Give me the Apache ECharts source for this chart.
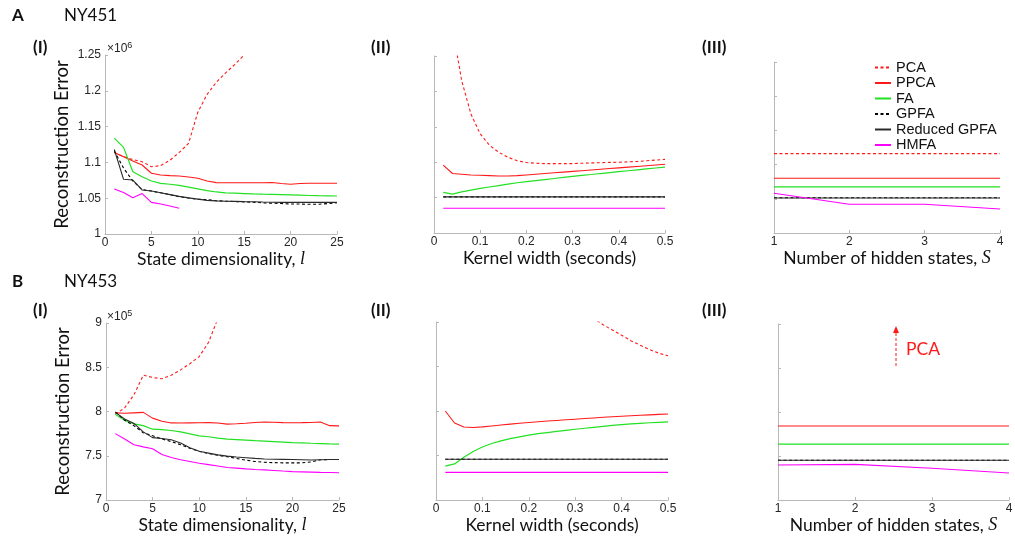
<!DOCTYPE html>
<html><head><meta charset="utf-8">
<script src="https://cdn.jsdelivr.net/npm/echarts@6/dist/echarts.min.js"></script>
<style>html,body{margin:0;padding:0;background:#fff}#c{width:1015px;height:542px}</style>
</head><body><div id="c"></div>
<script>
// ---------- data ----------
const dims = [1,2,3,4,5,6,7,8,9,10,11,12,13,14,15,16,17,18,19,20,21,22,23,24,25];
const kernel = [0.02,0.04,0.06,0.08,0.10,0.12,0.14,0.16,0.18,0.20,0.22,0.24,0.26,0.28,0.30,0.32,0.34,0.36,0.38,0.40,0.42,0.44,0.46,0.48,0.50];
const states = [1,2,3,4];
const names = ['PCA','PPCA','FA','GPFA','Reduced GPFA','HMFA'];

// Panel A (NY451), values in units of 1e6
const a1PCA   = [1.114,1.108,1.104,1.101,1.094,1.0955,1.103,1.114,1.1265,1.17,1.195,1.212,1.225,1.237,1.25];
const a1PPCA  = [1.114,1.108,1.102,1.0964,1.0848,1.0824,1.0815,1.081,1.0795,1.0778,1.074,1.0717,1.0715,1.0715,1.0715,1.0715,1.0715,1.072,1.0705,1.0695,1.0705,1.0708,1.0708,1.0708,1.0708];
const a1FA    = [1.134,1.121,1.087,1.080,1.074,1.0708,1.0695,1.068,1.0655,1.063,1.0605,1.0587,1.0575,1.057,1.0565,1.056,1.0556,1.0554,1.055,1.0546,1.0542,1.0538,1.0535,1.0533,1.0531];
const a1GPFA  = [1.116,1.092,1.074,1.062,1.060,1.0575,1.055,1.052,1.0503,1.0485,1.048,1.0465,1.0458,1.0453,1.0448,1.0443,1.0435,1.043,1.0425,1.042,1.0418,1.0415,1.0415,1.0425,1.0437];
const a1RGPFA = [1.118,1.0764,1.0754,1.0615,1.060,1.0575,1.055,1.0525,1.0505,1.0487,1.047,1.0462,1.0458,1.0455,1.0452,1.045,1.0446,1.0443,1.0442,1.0442,1.0442,1.0442,1.0442,1.0442,1.0442];
const a1HMFA  = [1.063,1.058,1.0507,1.0565,1.0442,1.042,1.039,1.0359];

const a2PCA   = [1.60,1.29,1.215,1.168,1.140,1.124,1.114,1.107,1.102,1.0995,1.0985,1.098,1.098,1.098,1.098,1.0985,1.099,1.0993,1.0997,1.100,1.1005,1.101,1.102,1.103,1.104];
const a2PPCA  = [1.096,1.084,1.083,1.082,1.0815,1.081,1.0805,1.0805,1.081,1.082,1.083,1.084,1.085,1.086,1.087,1.088,1.089,1.090,1.091,1.092,1.093,1.094,1.095,1.096,1.097];
const a2FA    = [1.0575,1.055,1.058,1.0605,1.063,1.065,1.067,1.069,1.071,1.0725,1.074,1.0755,1.077,1.0785,1.080,1.0813,1.0826,1.084,1.0853,1.0866,1.0879,1.0892,1.0905,1.0918,1.093];
const a2GPFA  = [1.051,1.051,1.051,1.051,1.051,1.051,1.051,1.051,1.051,1.051,1.051,1.051,1.051,1.051,1.051,1.051,1.051,1.051,1.051,1.051,1.051,1.051,1.051,1.051,1.051];
const a2RGPFA = [1.051,1.051,1.051,1.051,1.051,1.051,1.051,1.051,1.051,1.051,1.051,1.051,1.051,1.051,1.051,1.051,1.051,1.051,1.051,1.051,1.051,1.051,1.051,1.051,1.051];
const a2HMFA  = [1.035,1.035,1.035,1.035,1.035,1.035,1.035,1.035,1.035,1.035,1.035,1.035,1.035,1.035,1.035,1.035,1.035,1.035,1.035,1.035,1.035,1.035,1.035,1.035,1.035];

const a3PCA   = [1.116,1.116,1.116,1.116];
const a3PPCA  = [1.080,1.080,1.080,1.080];
const a3FA    = [1.0675,1.0675,1.0675,1.0675];
const a3GPFA  = [1.0515,1.0515,1.0515,1.0515];
const a3RGPFA = [1.0512,1.0512,1.0512,1.0512];
const a3HMFA  = [1.058,1.042,1.042,1.035];

// Panel B (NY453), values in units of 1e5
const b1PCA   = [7.97,8.04,8.19,8.41,8.385,8.37,8.41,8.47,8.54,8.62,8.78,9.05];
const b1PPCA  = [7.985,7.98,7.985,7.99,7.925,7.89,7.871,7.87,7.872,7.873,7.874,7.87,7.857,7.862,7.868,7.875,7.882,7.878,7.874,7.873,7.874,7.876,7.882,7.84,7.838];
const b1FA    = [7.97,7.90,7.86,7.84,7.80,7.795,7.785,7.77,7.748,7.725,7.715,7.70,7.688,7.683,7.677,7.67,7.665,7.66,7.655,7.648,7.645,7.641,7.638,7.634,7.631];
const b1GPFA  = [7.995,7.90,7.84,7.76,7.725,7.69,7.66,7.625,7.585,7.55,7.525,7.505,7.49,7.47,7.45,7.435,7.426,7.422,7.42,7.42,7.42,7.43,7.455,7.457,7.458];
const b1RGPFA = [7.99,7.915,7.865,7.77,7.705,7.695,7.68,7.645,7.59,7.55,7.53,7.51,7.496,7.486,7.478,7.47,7.464,7.461,7.459,7.457,7.455,7.452,7.455,7.457,7.458];
const b1HMFA  = [7.75,7.69,7.625,7.60,7.58,7.515,7.48,7.455,7.435,7.415,7.40,7.385,7.368,7.36,7.352,7.345,7.34,7.334,7.327,7.321,7.318,7.315,7.312,7.31,7.308];

const b2PCA   = [null,null,null,null,null,null,null,null,null,null,null,null,null,null,9.20,9.11,9.04,8.97,8.91,8.85,8.79,8.74,8.69,8.65,8.62];
const b2PPCA  = [8.00,7.865,7.82,7.814,7.822,7.832,7.842,7.852,7.862,7.871,7.879,7.887,7.894,7.901,7.908,7.915,7.922,7.929,7.935,7.941,7.947,7.952,7.957,7.962,7.967];
const b2FA    = [7.38,7.405,7.48,7.545,7.595,7.635,7.665,7.69,7.71,7.728,7.745,7.758,7.771,7.783,7.795,7.806,7.817,7.828,7.838,7.847,7.855,7.862,7.868,7.873,7.877];
const b2GPFA  = [7.458,7.458,7.458,7.458,7.458,7.458,7.458,7.458,7.458,7.458,7.458,7.458,7.458,7.458,7.458,7.458,7.458,7.458,7.458,7.458,7.458,7.458,7.458,7.458,7.458];
const b2RGPFA = [7.458,7.458,7.458,7.458,7.458,7.458,7.458,7.458,7.458,7.458,7.458,7.458,7.458,7.458,7.458,7.458,7.458,7.458,7.458,7.458,7.458,7.458,7.458,7.458,7.458];
const b2HMFA  = [7.31,7.31,7.31,7.31,7.31,7.31,7.31,7.31,7.31,7.31,7.31,7.31,7.31,7.31,7.31,7.31,7.31,7.31,7.31,7.31,7.31,7.31,7.31,7.31,7.31];

const b3PPCA  = [7.841,7.841,7.841,7.841];
const b3FA    = [7.636,7.636,7.636,7.636];
const b3GPFA  = [7.451,7.451,7.451,7.451];
const b3RGPFA = [7.451,7.451,7.451,7.451];
const b3HMFA  = [7.398,7.405,7.36,7.307];

const yTicksA = [1, 1.25, 0.05];   // min, max, interval
const yTicksB = [7, 9, 0.5];

// ---------- styles ----------
const RED = '#ff1a1a', GREEN = '#22e022', MAG = '#ff00ff';
const sty = {
  'PCA': {color: RED, type: [3, 2.5], width: 1.1},
  'PPCA': {color: RED, type: 'solid', width: 1.1},
  'FA': {color: GREEN, type: 'solid', width: 1.2},
  'GPFA': {color: '#000', type: [3, 2.5], width: 1.1},
  'Reduced GPFA': {color: '#2a2a2a', type: 'solid', width: 1.1},
  'HMFA': {color: MAG, type: 'solid', width: 1.1}
};
function mk(name, gi, xs, ys) {
  const s = sty[name];
  return {
    name, type: 'line', xAxisIndex: gi, yAxisIndex: gi, symbol: 'none', silent: true,
    color: s.color, clip: true, animation: false,
    lineStyle: {color: s.color, type: s.type, width: s.width},
    data: ys.map((v, i) => [xs[i], v])
  };
}

const grids = [
  {left: 105, top: 55, width: 232, height: 179},
  {left: 434, top: 56, width: 231, height: 177},
  {left: 774, top: 62, width: 226, height: 171},
  {left: 106, top: 323, width: 233, height: 177},
  {left: 436, top: 322, width: 232, height: 178},
  {left: 778, top: 324, width: 231, height: 176}
].map(g => Object.assign({containLabel: false, outerBoundsMode: 'none'}, g));

const AX = '#b8b8b8', LAB = '#262626';
const tickFont = 'Liberation Sans, Arial, sans-serif';
const titleFont = 'Lato, "Open Sans", sans-serif';
const nameStyle = {fontFamily: titleFont, fontSize: 17.5, color: '#111',
  rich: {i: {fontFamily: 'Liberation Serif, serif', fontStyle: 'italic', fontSize: 18, color: '#111'}}};

function xAx(gi, min, max, interval, name) {
  return {type: 'value', gridIndex: gi, min, max, interval,
    axisLine: {show: true, lineStyle: {color: AX, width: 1}},
    axisTick: {show: true, inside: true, length: 3, lineStyle: {color: AX}},
    axisLabel: {show: true, color: LAB, fontSize: 12, fontFamily: tickFont, margin: 3},
    splitLine: {show: false},
    name, nameLocation: 'middle', nameGap: 15, nameTextStyle: nameStyle};
}
function yAx(gi, t, showLabel) {
  const o = {type: 'value', gridIndex: gi, min: t[0], max: t[1], interval: t[2],
    axisLine: {show: true, lineStyle: {color: AX, width: 1}},
    axisTick: {show: true, inside: true, length: 3, lineStyle: {color: AX}},
    axisLabel: {show: showLabel, color: LAB, fontSize: 12, fontFamily: tickFont, margin: 4},
    splitLine: {show: false}};
  if (showLabel) {
    o.name = 'Reconstruction Error';
    o.nameLocation = 'middle';
    o.nameRotate = 90;
    o.nameGap = 33;
    o.nameTextStyle = {fontFamily: titleFont, fontSize: 18.5, color: '#111'};
  }
  return o;
}

const xName1 = 'State dimensionality, {i|l}';
const xName2 = 'Kernel width (seconds)';
const xName3 = 'Number of hidden states, {i|S}';

const xAxes = [
  xAx(0, 0, 25, 5, xName1), xAx(1, 0, 0.5, 0.1, xName2), xAx(2, 1, 4, 1, xName3),
  xAx(3, 0, 25, 5, xName1), xAx(4, 0, 0.5, 0.1, xName2), xAx(5, 1, 4, 1, xName3)
];
const yAxes = [
  yAx(0, yTicksA, true), yAx(1, yTicksA, false), yAx(2, yTicksA, false),
  yAx(3, yTicksB, true), yAx(4, yTicksB, false), yAx(5, yTicksB, false)
];

const series = [
  mk('PCA', 0, dims, a1PCA), mk('PPCA', 0, dims, a1PPCA), mk('FA', 0, dims, a1FA),
  mk('GPFA', 0, dims, a1GPFA), mk('Reduced GPFA', 0, dims, a1RGPFA), mk('HMFA', 0, dims, a1HMFA),
  mk('PCA', 1, kernel, a2PCA), mk('PPCA', 1, kernel, a2PPCA), mk('FA', 1, kernel, a2FA),
  mk('GPFA', 1, kernel, a2GPFA), mk('Reduced GPFA', 1, kernel, a2RGPFA), mk('HMFA', 1, kernel, a2HMFA),
  mk('PCA', 2, states, a3PCA), mk('PPCA', 2, states, a3PPCA), mk('FA', 2, states, a3FA),
  mk('GPFA', 2, states, a3GPFA), mk('Reduced GPFA', 2, states, a3RGPFA), mk('HMFA', 2, states, a3HMFA),
  mk('PCA', 3, dims, b1PCA), mk('PPCA', 3, dims, b1PPCA), mk('FA', 3, dims, b1FA),
  mk('GPFA', 3, dims, b1GPFA), mk('Reduced GPFA', 3, dims, b1RGPFA), mk('HMFA', 3, dims, b1HMFA),
  mk('PCA', 4, kernel, b2PCA), mk('PPCA', 4, kernel, b2PPCA), mk('FA', 4, kernel, b2FA),
  mk('GPFA', 4, kernel, b2GPFA), mk('Reduced GPFA', 4, kernel, b2RGPFA), mk('HMFA', 4, kernel, b2HMFA),
  mk('PPCA', 5, states, b3PPCA), mk('FA', 5, states, b3FA),
  mk('GPFA', 5, states, b3GPFA), mk('Reduced GPFA', 5, states, b3RGPFA), mk('HMFA', 5, states, b3HMFA)
];

function txt(x, y, text, size, weight, color, extra) {
  return {type: 'text', x, y, silent: true, style: Object.assign({
    text, fontSize: size, fontWeight: weight || 'normal', fill: color || '#111',
    fontFamily: titleFont, verticalAlign: 'middle', align: 'left'}, extra || {})};
}
function sci(x, y, exp) {
  return {type: 'text', x, y, silent: true, style: {text: '×10{s|' + exp + '}', fontSize: 12, fill: LAB, fontFamily: tickFont,
    verticalAlign: 'middle', rich: {s: {fontSize: 9, verticalAlign: 'top', padding: [0,0,7,0], fill: LAB, fontFamily: tickFont}}}};
}
const graphics = [
  txt(12, 16, 'A', 17, 'bold'), txt(64, 16, 'NY451', 17),
  txt(33, 48, '(I)', 17, 'bold'), txt(371, 48, '(II)', 17, 'bold'), txt(702, 48, '(III)', 17, 'bold'),
  txt(12, 282, 'B', 17, 'bold'), txt(64, 282, 'NY453', 17),
  txt(33, 311, '(I)', 17, 'bold'), txt(371, 311, '(II)', 17, 'bold'), txt(702, 311, '(III)', 17, 'bold'),
  sci(107, 49, '6'), sci(107, 317, '5'),
  // PCA off-scale annotation in B(III)
  {type: 'line', silent: true, shape: {x1: 896, y1: 366, x2: 896, y2: 332},
    style: {stroke: RED, lineWidth: 1, lineDash: [3, 2]}},
  {type: 'polygon', silent: true, shape: {points: [[896, 326], [893, 333], [899, 333]]}, style: {fill: RED}},
  txt(906, 349, 'PCA', 17.5, 'normal', RED)
];

const chart = echarts.init(document.getElementById('c'), null, {renderer: 'canvas'});
chart.setOption({
  animation: false,
  backgroundColor: '#fff',
  grid: grids,
  xAxis: xAxes,
  yAxis: yAxes,
  legend: {
    data: names, orient: 'vertical', left: 869, top: 55, selectedMode: false,
    itemWidth: 16, itemHeight: 10, itemGap: 0.5,
    itemStyle: {opacity: 0},
    textStyle: {fontFamily: tickFont, fontSize: 14.5, color: '#111', lineHeight: 15}
  },
  series,
  graphic: graphics
});
</script></body></html>
